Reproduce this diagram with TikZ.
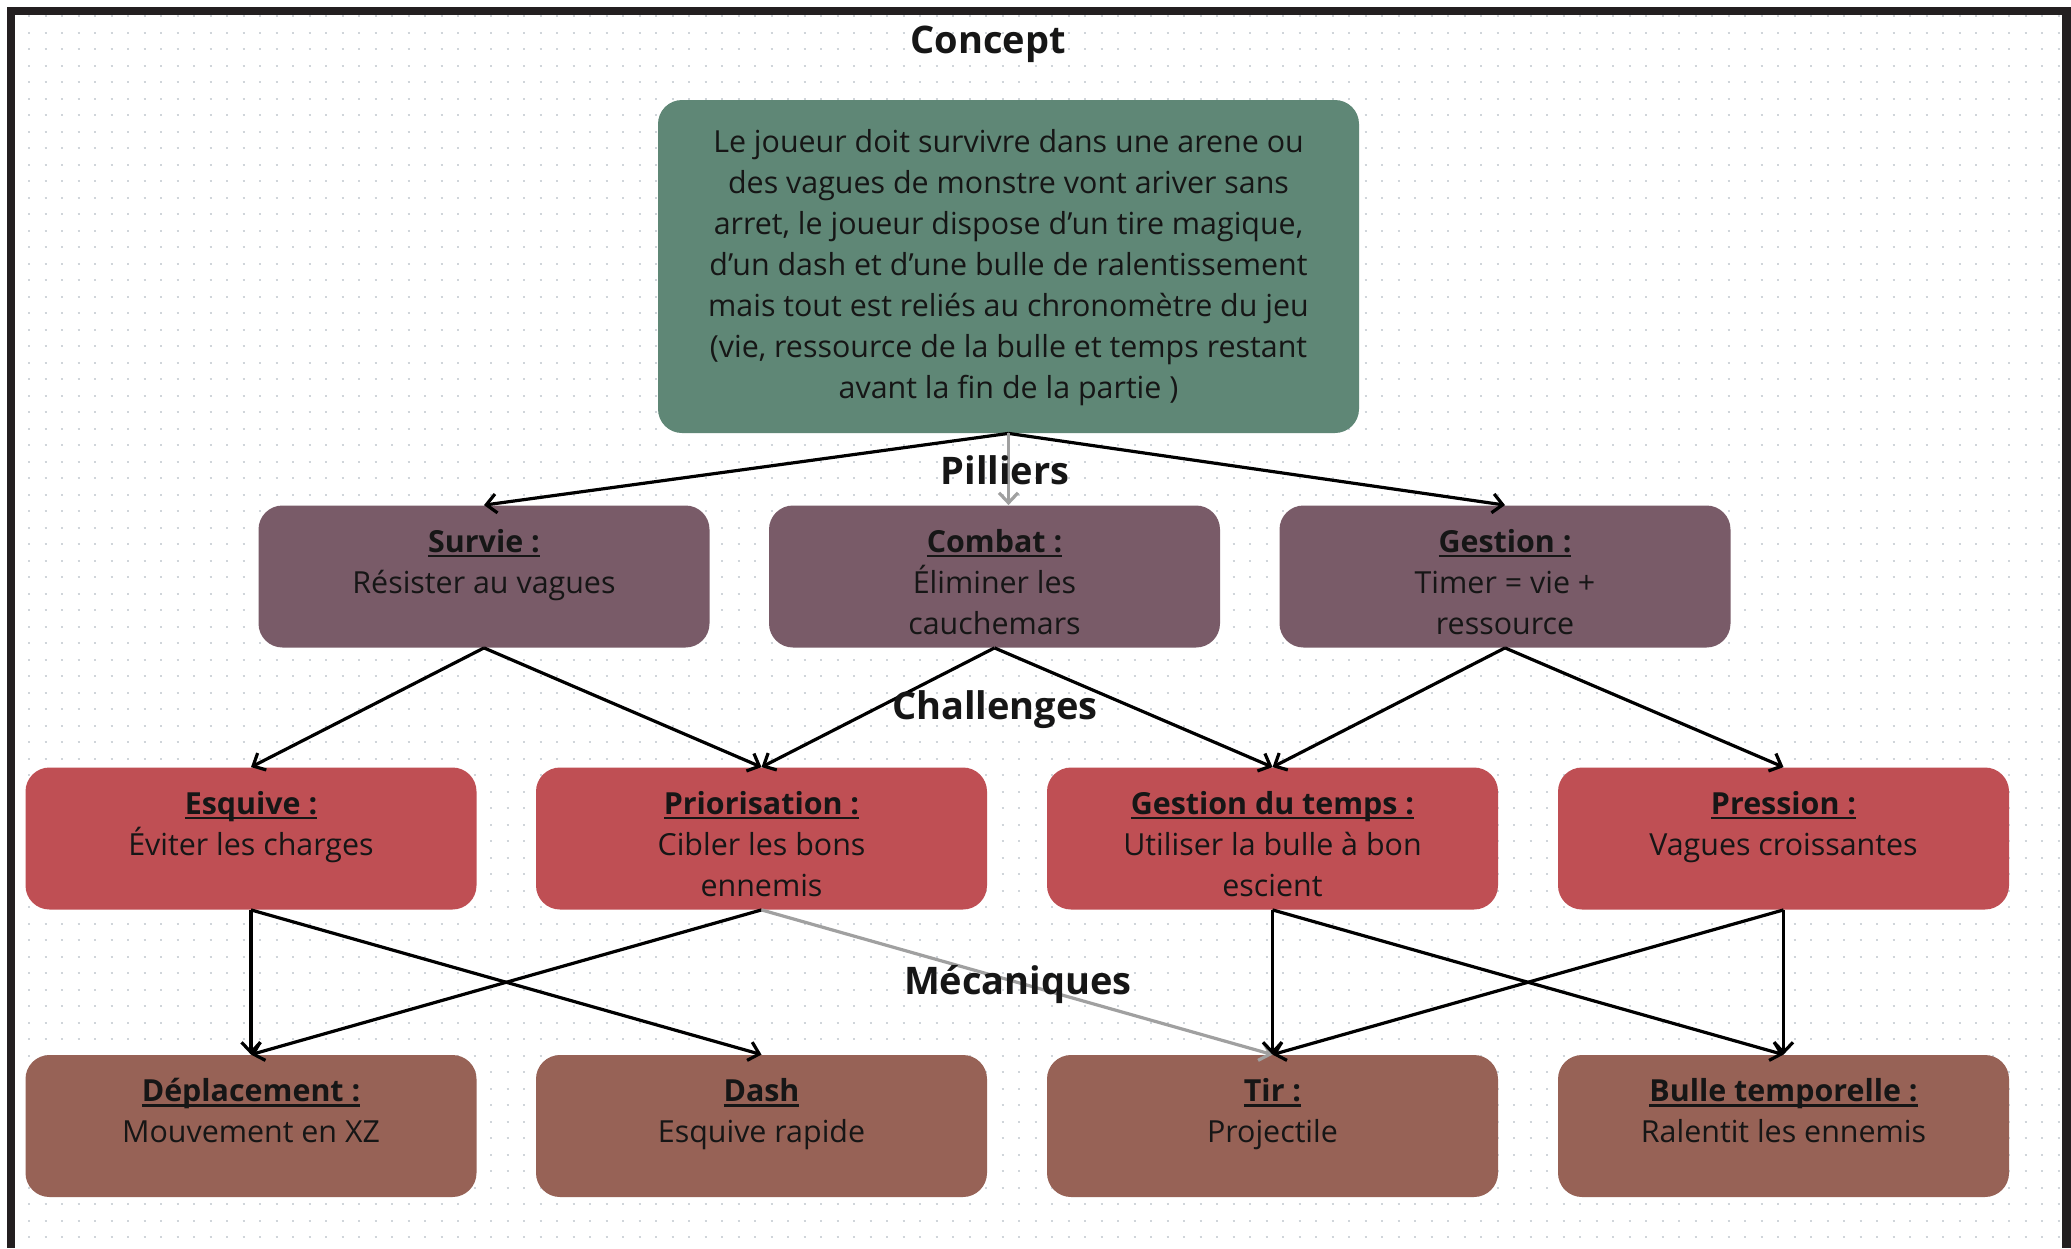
\documentclass[tikz,border=0pt]{standalone}
\usepackage{fontspec}
\setmainfont{Open Sans}
\usetikzlibrary{arrows.meta}

\definecolor{conceptc}{RGB}{95,135,118}
\definecolor{pilierc}{RGB}{121,91,104}
\definecolor{challc}{RGB}{191,79,84}
\definecolor{mecac}{RGB}{151,98,86}
\definecolor{framec}{RGB}{35,31,32}
\definecolor{dotc}{RGB}{208,213,218}
\definecolor{textc}{RGB}{22,22,22}
\definecolor{greyarrow}{RGB}{160,160,160}

% bold heading with a flat underline just under the baseline
\newcommand{\headul}[1]{\setbox0\hbox{\textbf{#1}}\rlap{\rule[-2.4pt]{\wd0}{1.1pt}}\box0}

\tikzset{
  box/.style={rounded corners=12pt, minimum width=225.5pt, minimum height=71pt, inner sep=0pt},
  txt/.style={align=center, inner sep=0pt, text=textc, font=\fontsize{15.2}{20.5}\selectfont},
  sect/.style={inner sep=0pt, text=textc, font=\fontsize{19}{23}\selectfont\bfseries},
  arr/.style={line width=1.6pt, draw=black, -{Straight Barb[length=5pt,width=9.5pt,line width=1.6pt]}},
  garr/.style={arr, draw=greyarrow},
  dotline/.style={draw=dotc, line width=1pt, dash pattern=on 1pt off 7.25pt},
}

\begin{document}
\begin{tikzpicture}[x=0.5pt, y=-0.5pt]
  \useasboundingbox (0,0) rectangle (2071,1248);
  \fill[white] (0,0) rectangle (2071,1248);

  % dotted background grid
  \foreach \yy in {16,32.5,...,1248}
    \draw[dotline] (28,\yy) -- (2062,\yy);

  % outer frame (open at the bottom)
  \fill[framec] (7,7) rectangle (2071,15);
  \fill[framec] (7,7) rectangle (15,1248);
  \fill[framec] (2062,7) rectangle (2071,1248);

  % concept
  \node[box, fill=conceptc, minimum width=350.5pt, minimum height=166.5pt] (concept) at (1008.5,266.5) {};
  \node[txt] (concept-t) at (1008.5,268) {Le joueur doit survivre dans une arene ou\\
    des vagues de monstre vont ariver sans\\
    arret, le joueur dispose d’un tire magique,\\
    d’un dash et d’une bulle de ralentissement\\
    mais tout est reliés au chronomètre du jeu\\
    (vie, ressource de la bulle et temps restant\\
    avant la fin de la partie )};

  % pillars
  \node[box, fill=pilierc] (survie)  at (484,576.5) {};
  \node[box, fill=pilierc] (combat)  at (994.5,576.5) {};
  \node[box, fill=pilierc] (gestion) at (1505,576.5) {};

  % challenges
  \node[box, fill=challc] (esquive) at (251,838.5) {};
  \node[box, fill=challc] (prio)    at (761.5,838.5) {};
  \node[box, fill=challc] (temps)   at (1272.5,838.5) {};
  \node[box, fill=challc] (press)   at (1783.5,838.5) {};

  % mechanics
  \node[box, fill=mecac] (depl)  at (251,1126) {};
  \node[box, fill=mecac] (dash)  at (761.5,1126) {};
  \node[box, fill=mecac] (tir)   at (1272.5,1126) {};
  \node[box, fill=mecac] (bulle) at (1783.5,1126) {};

  % box texts
  \foreach \b/\t in {
      survie/{\headul{Survie :}\\Résister au vagues},
      combat/{\headul{Combat :}\\Éliminer les\\cauchemars},
      gestion/{\headul{Gestion :}\\Timer = vie +\\ressource},
      esquive/{\headul{Esquive :}\\Éviter les charges},
      prio/{\headul{Priorisation :}\\Cibler les bons\\ennemis},
      temps/{\headul{Gestion du temps :}\\Utiliser la bulle à bon\\escient},
      press/{\headul{Pression :}\\Vagues croissantes},
      depl/{\headul{Déplacement :}\\Mouvement en XZ},
      dash/{\headul{Dash}\\Esquive rapide},
      tir/{\headul{Tir :}\\Projectile},
      bulle/{\headul{Bulle temporelle :}\\Ralentit les ennemis}}
    \node[txt, anchor=north] (\b-t) at ([yshift=-9pt]\b.north) {\strut\t};

  % connectors
  \draw[arr]  (concept.south) -- (survie.north);
  \draw[arr]  (concept.south) -- (gestion.north);
  \draw[garr] (concept.south) -- (concept.south |- combat.north);

  \draw[arr] (survie.south)  -- (esquive.north);
  \draw[arr] (survie.south)  -- (prio.north);
  \draw[arr] (combat.south)  -- (prio.north);
  \draw[arr] (combat.south)  -- (temps.north);
  \draw[arr] (gestion.south) -- (temps.north);
  \draw[arr] (gestion.south) -- (press.north);

  \draw[arr]  (esquive.south) -- (depl.north);
  \draw[arr]  (esquive.south) -- (dash.north);
  \draw[arr]  (prio.south)    -- (depl.north);
  \draw[garr] (prio.south)    -- (tir.north);
  \draw[arr]  (temps.south)   -- (tir.north);
  \draw[arr]  (temps.south)   -- (bulle.north);
  \draw[arr]  (press.south)   -- (tir.north);
  \draw[arr]  (press.south)   -- (bulle.north);

  % level headings
  \node[sect] (h-concept) at (988,44)   {Concept};
  \node[sect] (h-piliers) at (1005,470) {Pilliers};
  \node[sect] (h-chall)   at (995,710)  {Challenges};
  \node[sect] (h-meca)    at (1018,984) {Mécaniques};
\end{tikzpicture}
\end{document}
